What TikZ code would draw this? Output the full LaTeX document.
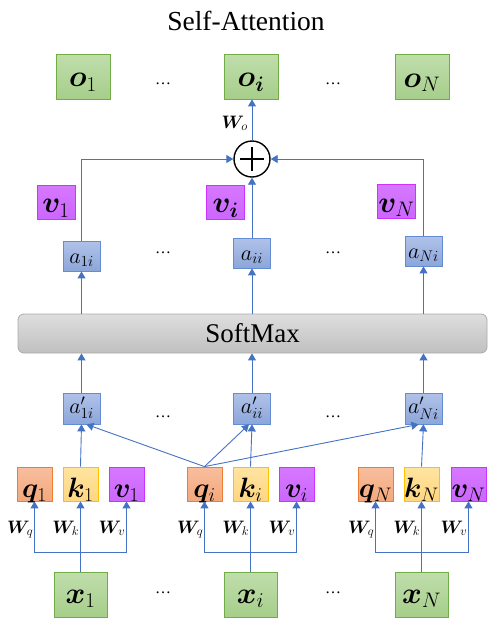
\RequirePackage{fix-cm}
\documentclass[tikz,border=0pt]{standalone}
\usepackage{amsmath}
\usepackage{bm}
\usepackage{fontspec}
\newfontfamily\timesf{Liberation Serif}
\usetikzlibrary{arrows.meta}
\definecolor{lineblue}{RGB}{68,114,196}
\definecolor{grnD}{RGB}{112,173,71}
\definecolor{grnL}{RGB}{192,222,172}
\definecolor{grnM}{RGB}{166,206,138}
\definecolor{orgD}{RGB}{237,125,49}
\definecolor{orgL}{RGB}{248,190,158}
\definecolor{orgM}{RGB}{243,168,124}
\definecolor{ylwD}{RGB}{255,192,0}
\definecolor{ylwL}{RGB}{255,228,160}
\definecolor{ylwM}{RGB}{255,214,128}
\definecolor{prpD}{RGB}{204,51,255}
\definecolor{prpL}{RGB}{214,120,255}
\definecolor{prpM}{RGB}{204,102,255}
\definecolor{bluD}{RGB}{100,140,210}
\definecolor{bluL}{RGB}{176,194,232}
\definecolor{bluM}{RGB}{140,166,218}
\definecolor{gryD}{RGB}{170,170,170}
\definecolor{gryL}{RGB}{222,222,222}
\definecolor{gryM}{RGB}{192,192,192}
\tikzset{
  boxbase/.style={line width=0.8pt, inner sep=0pt, text depth=0pt},
  gbox/.style={boxbase, draw=grnD, top color=grnL, bottom color=grnM,
    minimum width=54pt, minimum height=45pt, text height=20pt,
    font=\fontsize{30}{32}\selectfont},
  xbox/.style={gbox, minimum width=53pt, text height=17pt},
  qbox/.style={boxbase, draw=orgD, top color=orgL, bottom color=orgM,
    minimum width=35pt, minimum height=34pt, text height=26pt,
    font=\fontsize{28}{30}\selectfont},
  kbox/.style={qbox, draw=ylwD, top color=ylwL, bottom color=ylwM},
  vbox/.style={qbox, draw=prpD, top color=prpL, bottom color=prpM},
  vupbox/.style={vbox, minimum width=38pt, text height=21pt, font=\fontsize{30}{32}\selectfont},
  abox/.style={boxbase, draw=bluD, top color=bluL, bottom color=bluM,
    minimum width=37pt, minimum height=30pt, text height=15pt,
    font=\fontsize{22}{24}\selectfont},
  apbox/.style={abox, minimum height=31pt, text height=10pt},
  dotsnode/.style={inner sep=0pt, anchor=base, font=\timesf\fontsize{16}{18}\selectfont},
  wlabel/.style={inner sep=0pt, anchor=base east, font=\fontsize{18}{20}\selectfont},
  conn/.style={draw=lineblue, line width=0.9pt},
  arr/.style={conn, -{Triangle[width=8pt,length=7pt]}},
}
\begin{document}
\begin{tikzpicture}[x=1pt,y=-1pt]
\useasboundingbox (0,0) rectangle (499,630);
% title
\node[inner sep=0pt, font=\timesf\fontsize{27.5}{30}\selectfont] (title) at (246,21) {Self-Attention};
% outputs
\node[gbox] (o1) at (83,76.5) {$\bm{o}_1$};
\node[gbox] (oi) at (251,76.5) {$\bm{o}_{\bm{i}}$};
\node[gbox] (oN) at (422,77) {$\bm{o}_N$};
\node[dotsnode] (d1) at (163,84) {\ldots};
\node[dotsnode] (d2) at (333,84) {\ldots};
% plus
\node[draw=black, line width=1.4pt, circle, minimum size=36pt, inner sep=0pt] (plus) at (252,159) {};
\draw[line width=1.4pt] ([xshift=-12pt]plus.center) -- ([xshift=12pt]plus.center)
  ([yshift=-12pt]plus.center) -- ([yshift=12pt]plus.center);
\node[wlabel] (wo) at (248,128) {$\bm{W}_o$};
% upper v
\node[vupbox] (vu1) at (56,202) {$\bm{v}_1$};
\node[vupbox] (vui) at (225.5,202) {$\bm{v}_{\bm{i}}$};
\node[vupbox] (vuN) at (396.5,201.5) {$\bm{v}_N$};
% a
\node[abox] (a1) at (81.5,256) {$a_{1i}$};
\node[abox] (ai) at (252,253) {$a_{ii}$};
\node[abox] (aN) at (423.5,251) {$a_{Ni}$};
\node[dotsnode] (d3) at (163,253) {\ldots};
\node[dotsnode] (d4) at (333,253) {\ldots};
% softmax
\node[draw=gryD, line width=0.8pt, top color=gryL, bottom color=gryM, rounded corners=6pt,
  minimum width=469pt, minimum height=39pt, inner sep=0pt,
  font=\timesf\fontsize{27}{30}\selectfont] (sm) at (252.5,333.5) {SoftMax};
% a'
\node[apbox] (ap1) at (81.5,408.5) {$a'_{1i}$};
\node[apbox] (api) at (252,408.5) {$a'_{ii}$};
\node[apbox] (apN) at (423.5,408.5) {$a'_{Ni}$};
\node[dotsnode] (d5) at (163,417) {\ldots};
\node[dotsnode] (d6) at (333,417) {\ldots};
% q k v
\node[qbox] (q1) at (34.5,484) {$\bm{q}_1$};
\node[kbox] (k1) at (80.5,484) {$\bm{k}_1$};
\node[vbox] (v1) at (126.5,484) {$\bm{v}_1$};
\node[qbox] (qi) at (204.5,484) {$\bm{q}_i$};
\node[kbox] (ki) at (250.5,484) {$\bm{k}_i$};
\node[vbox] (vi) at (296.5,484) {$\bm{v}_i$};
\node[qbox] (qN) at (375.5,484) {$\bm{q}_N$};
\node[kbox] (kN) at (421.5,484) {$\bm{k}_N$};
\node[vbox] (vN) at (468.5,484) {$\bm{v}_N$};
% inputs
\node[xbox] (x1) at (80.5,594.5) {$\bm{x}_1$};
\node[xbox] (xi) at (250.5,594.5) {$\bm{x}_i$};
\node[xbox] (xN) at (421.5,594.5) {$\bm{x}_N$};
\node[dotsnode] (d7) at (163,593) {\ldots};
\node[dotsnode] (d8) at (333,593) {\ldots};
% branches
\foreach \g in {1,i,N}{
  \draw[conn] (x\g.north) -- ++(0,-19) coordinate (j\g);
  \draw[arr] (j\g) -| (q\g.south);
  \draw[arr] (j\g) -- (k\g.south);
  \draw[arr] (j\g) -| (v\g.south);
  \node[wlabel] at ([xshift=-1pt]q\g.south |- 0,533) {$\bm{W}_q$};
  \node[wlabel] at ([xshift=-1pt]k\g.south |- 0,533) {$\bm{W}_k$};
  \node[wlabel] at ([xshift=-1pt]v\g.south |- 0,533) {$\bm{W}_v$};
}
% to a'
\draw[arr] (k1.north) -- (ap1.south);
\draw[arr] (ki.north) -- (api.south);
\draw[arr] (kN.north) -- (apN.south);
\draw[arr] (qi.north) -- ([xshift=5pt]ap1.south);
\draw[arr] (qi.north) -- ([xshift=-3pt]api.south);
\draw[arr] (qi.north) -- ([xshift=-5pt]apN.south);
% a' to softmax
\draw[arr] (ap1.north) -- (ap1.north |- sm.south);
\draw[arr] (api.north) -- (api.north |- sm.south);
\draw[arr] (apN.north) -- (apN.north |- sm.south);
% softmax to a
\draw[arr] (sm.north -| a1.south) -- (a1.south);
\draw[arr] (sm.north -| ai.south) -- (ai.south);
\draw[arr] (sm.north -| aN.south) -- (aN.south);
% a to plus
\draw[arr] (a1.north) |- (plus.west);
\draw[arr] (aN.north) |- (plus.east);
\draw[arr] (ai.north) -- (plus.south);
\draw[arr] (plus.north) -- (plus.north |- oi.south);
\end{tikzpicture}
\end{document}
